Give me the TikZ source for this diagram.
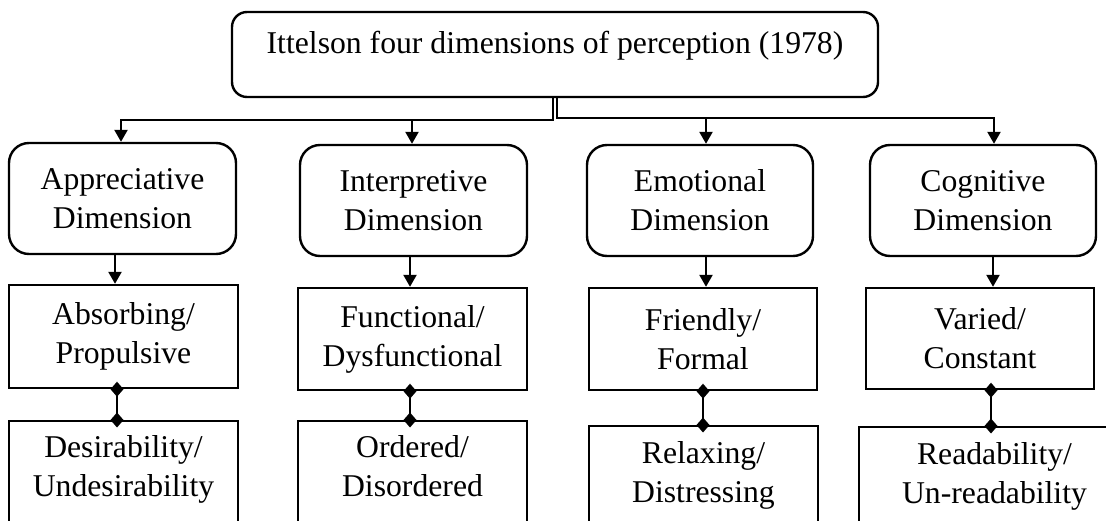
\documentclass[tikz,border=0pt]{standalone}
\usepackage{fontspec}
\setmainfont{Liberation Serif}
\usetikzlibrary{arrows.meta}

\tikzset{
  wire/.style={line width=2.4pt},
  arr/.style={wire, -{Triangle[length=12pt,width=13pt]}},
  dlink/.style={wire, {Diamond[length=15pt,width=13pt]}-{Diamond[length=15pt,width=13pt]},
                shorten <=-7.5pt, shorten >=-7.5pt},
  headbox/.style={draw, line width=2.4pt, rounded corners=15pt, inner sep=0},
  dimbox/.style={draw, line width=2.4pt, rounded corners=20pt, align=center, inner sep=0,
                 minimum height=111pt},
  pairbox/.style={draw, line width=2.4pt, align=center, inner sep=0},
  plain/.style={inner sep=0, align=center},
}

\begin{document}
\begin{tikzpicture}[x=1pt, y=-1pt, font=\fontsize{31.7}{39}\selectfont]
\useasboundingbox (0,0) rectangle (1106,521);
\clip (0,0) rectangle (1106,521);

% heading
\node[headbox, minimum width=646pt, minimum height=85pt] (top) at (555,54.5) {};
\node[plain, anchor=base] (title) at (555,54) {Ittelson four dimensions of perception (1978)};

% the four dimensions
\node[dimbox, minimum width=227pt] (app) at (122.5,198.5) {Appreciative\\Dimension};
\node[dimbox, minimum width=227pt] (int) at (413.5,200.5) {Interpretive\\Dimension};
\node[dimbox, minimum width=226pt] (emo) at (700,200.5)   {Emotional\\Dimension};
\node[dimbox, minimum width=226pt] (cog) at (983,200.5)   {Cognitive\\Dimension};

% first pair of qualities
\node[pairbox, minimum width=229pt, minimum height=103pt] (abs) at (123.5,336.5) {Absorbing/\\Propulsive};
\node[pairbox, minimum width=229pt, minimum height=102pt] (fun) at (412.5,339)   {Functional/\\Dysfunctional};
\node[pairbox, minimum width=228pt, minimum height=102pt] (fri) at (703,339)     {Friendly/\\Formal};
\node[pairbox, minimum width=228pt, minimum height=101pt] (var) at (980,338.5)   {Varied/\\Constant};

% second pair of qualities (boxes run past the lower edge)
\node[pairbox, anchor=north, minimum width=229pt, minimum height=150pt] (des) at (123.5,420) {};
\node[pairbox, anchor=north, minimum width=229pt, minimum height=150pt] (ord) at (412.5,420) {};
\node[pairbox, anchor=north, minimum width=229pt, minimum height=150pt] (rel) at (703.5,425) {};
\node[pairbox, anchor=north, minimum width=271pt, minimum height=150pt] (rea) at (994.5,426) {};
\node[plain, anchor=north] (tdes) at ([yshift=-15pt]des.north) {Desirability/\\Undesirability};
\node[plain, anchor=north] (tord) at ([yshift=-15pt]ord.north) {Ordered/\\Disordered};
\node[plain, anchor=north] (trel) at ([yshift=-16pt]rel.north) {Relaxing/\\Distressing};
\node[plain, anchor=north] (trea) at ([yshift=-16pt]rea.north) {Readability/\\Un-readability};

% distribution bus under the heading
\coordinate (busL) at (121,120);
\coordinate (busR) at (994,118);
\draw[arr] ([xshift=-2.2pt]top.south) |- (busL) -- (busL |- app.north);
\draw[arr] ([xshift=2.2pt]top.south) |- (busR) -- (busR |- cog.north);
\draw[arr] ([xshift=-1.5pt]int.north |- busL) -- ([xshift=-1.5pt]int.north);
\draw[arr] ([xshift=6pt]emo.north |- busR) -- ([xshift=6pt]emo.north);

% dimension to first pair
\draw[arr] ([xshift=-7.5pt]app.south) -- ([xshift=-7.5pt]app.south |- abs.north);
\draw[arr] ([xshift=-3.5pt]int.south) -- ([xshift=-3.5pt]int.south |- fun.north);
\draw[arr] ([xshift=6pt]emo.south)    -- ([xshift=6pt]emo.south |- fri.north);
\draw[arr] ([xshift=10pt]cog.south)   -- ([xshift=10pt]cog.south |- var.north);

% first pair to second pair
\draw[dlink] ([xshift=-6.5pt]abs.south) -- ([xshift=-6.5pt]des.north);
\draw[dlink] ([xshift=-2.5pt]fun.south) -- ([xshift=-2.5pt]ord.north);
\draw[dlink] (fri.south) -- ([xshift=-0.5pt]rel.north);
\draw[dlink] ([xshift=11pt]var.south) -- ([xshift=-3.5pt]rea.north);
\end{tikzpicture}
\end{document}
